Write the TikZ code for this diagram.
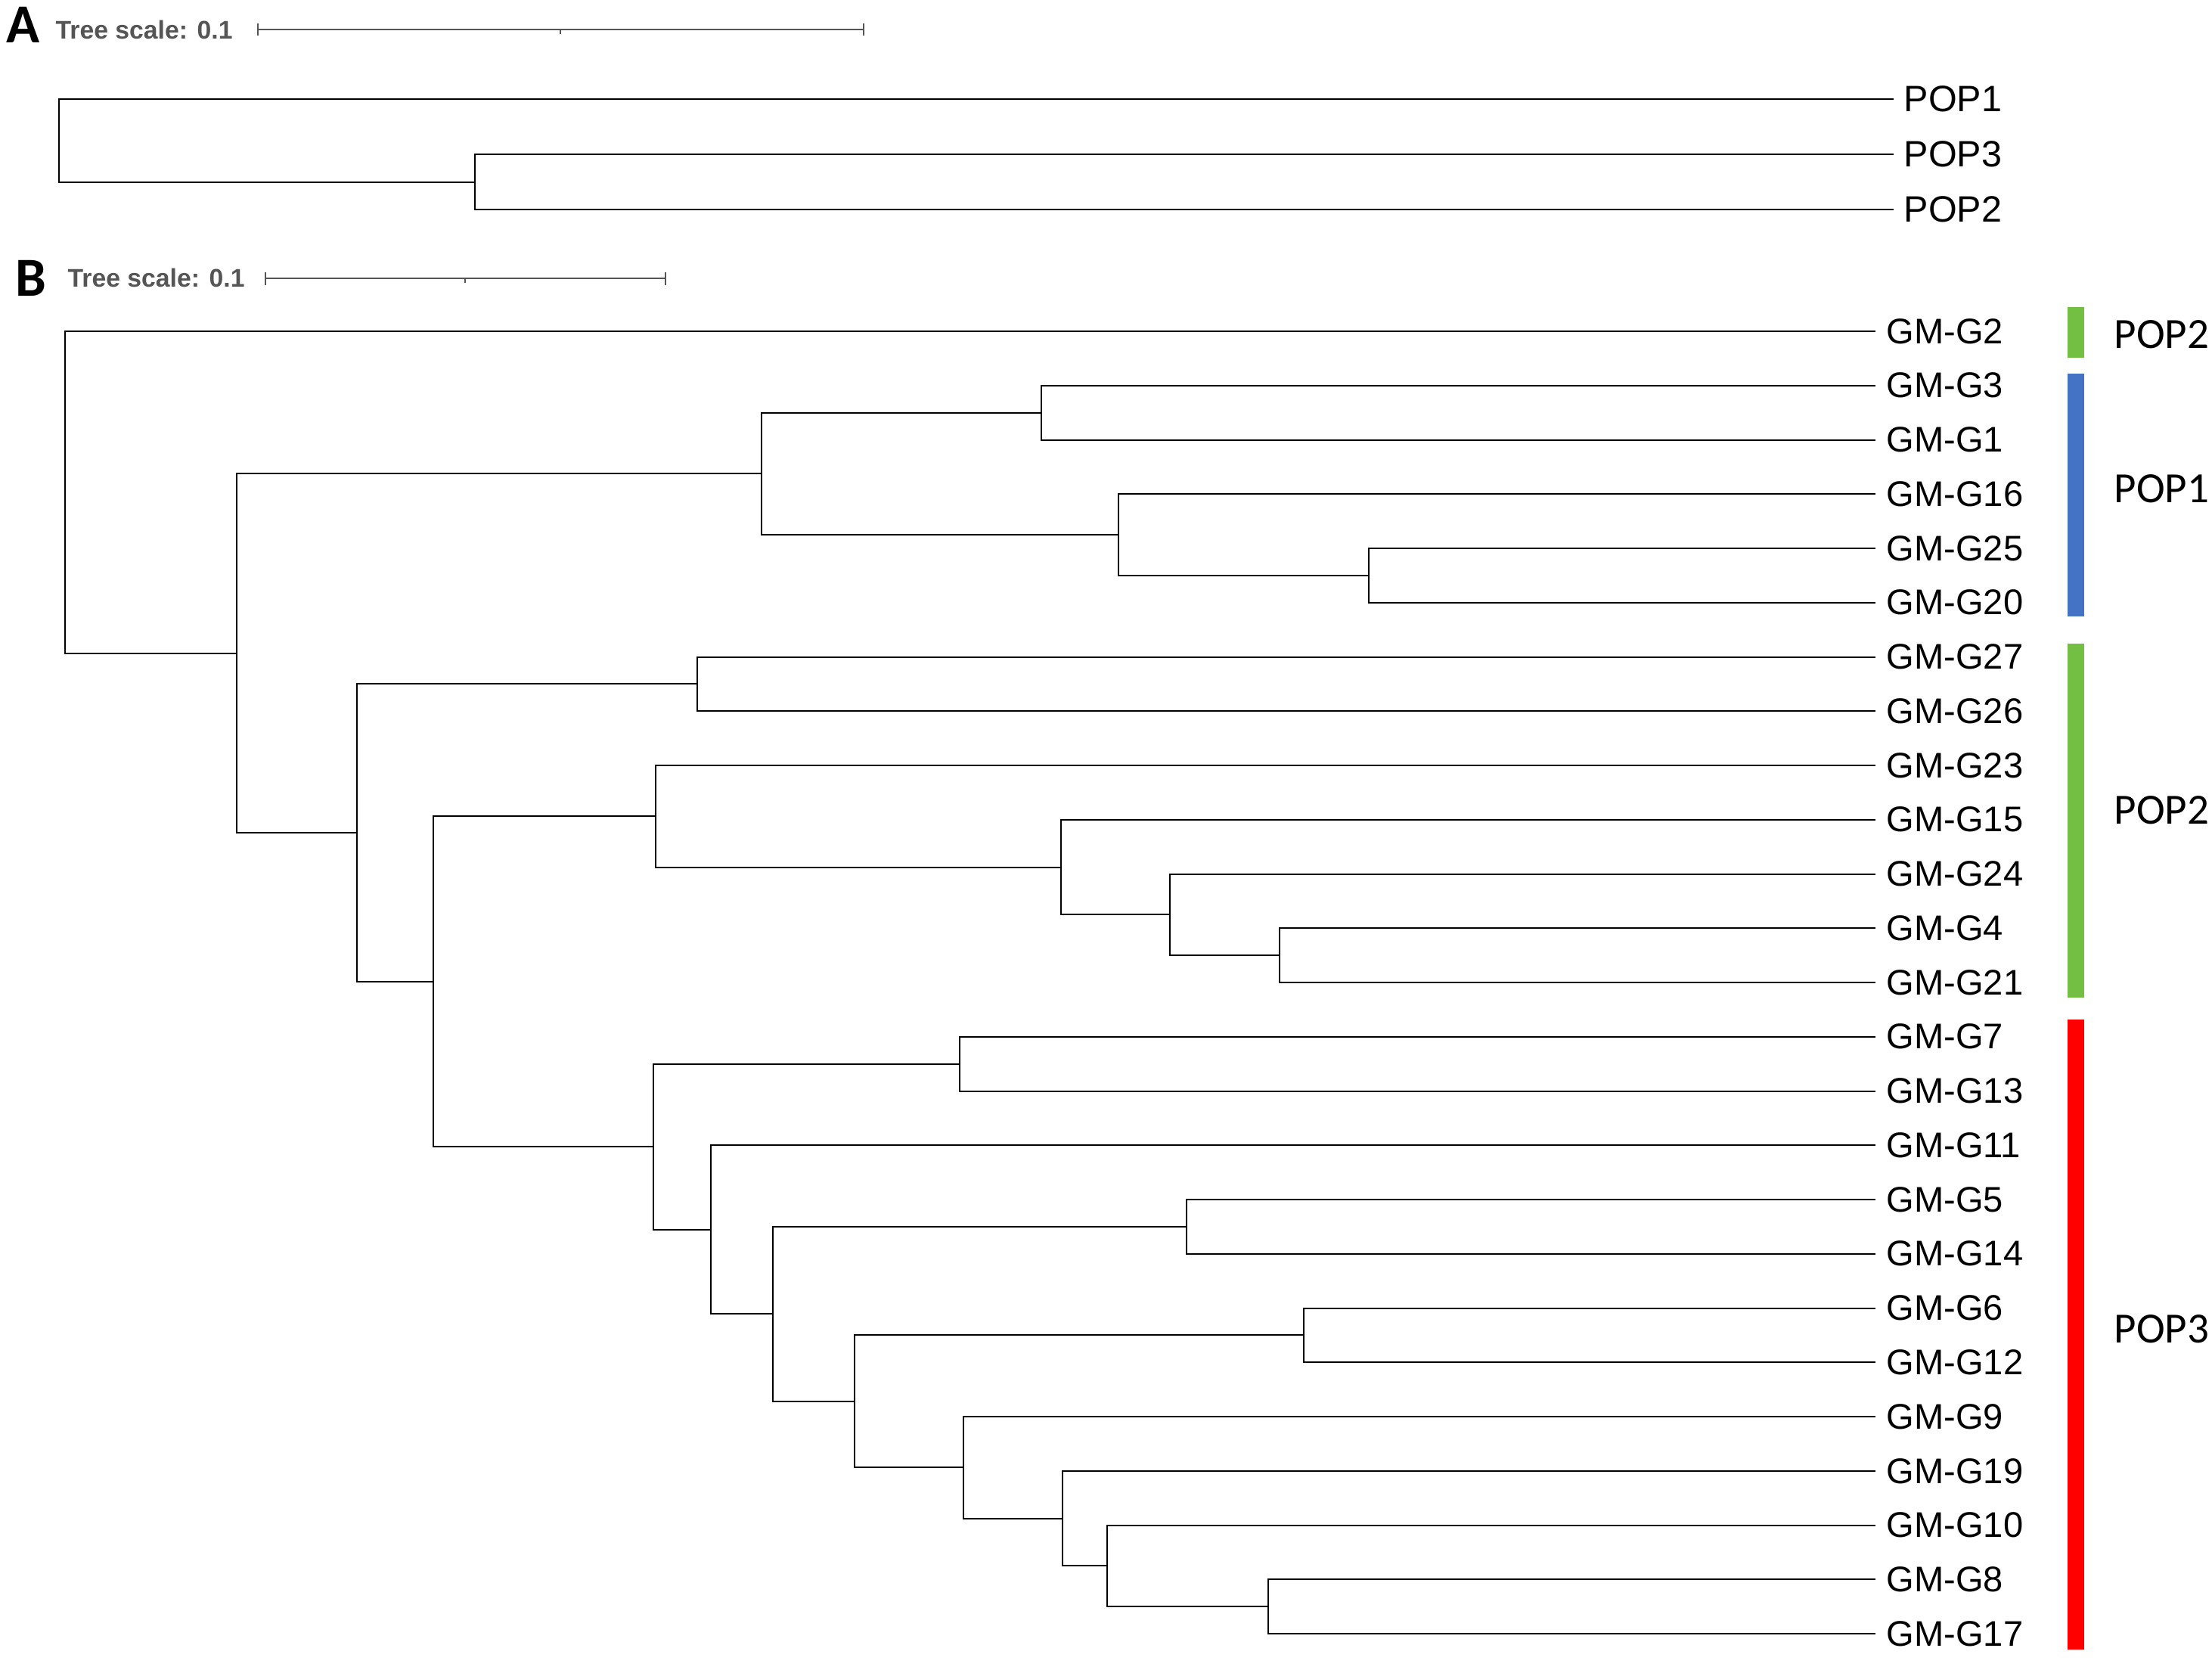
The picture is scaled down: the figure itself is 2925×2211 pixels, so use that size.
\documentclass[tikz,border=0pt]{standalone}
\usepackage{fontspec}
\setmainfont{Liberation Sans}
\newfontfamily\calfont{Carlito}
\usepackage{tikz}

\definecolor{popgreen}{HTML}{72BF44}
\definecolor{popblue}{HTML}{4472C4}
\definecolor{popred}{HTML}{FF0000}
\definecolor{scalegray}{HTML}{555555}

\tikzset{
  leaf/.style={anchor=west,inner xsep=1.4mm,inner ysep=0pt,font=\fontsize{13.4}{15}\selectfont},
  leafA/.style={leaf,inner xsep=1.3mm,font=\fontsize{13.8}{15}\selectfont},
  branch/.style={line width=0.2mm},
  scalebar/.style={line width=0.25mm,scalegray},
  scaletext/.style={anchor=west,inner sep=0pt,text=scalegray,font=\fontsize{9.6}{11}\selectfont\bfseries},
  panel/.style={anchor=west,inner sep=0pt,font=\calfont\fontsize{20.7}{22}\selectfont\bfseries},
  poplabel/.style={anchor=west,inner sep=0pt,font=\calfont\fontsize{16.2}{18}\selectfont}
}

\begin{document}
\begin{tikzpicture}[x=0.1mm,y=-0.1mm]
\useasboundingbox (0,0) rectangle (2925,2211);

% panel A
\node[panel] (pa) at (8,33) {A};
\node[scaletext] (sa) at (73,39) {Tree scale: 0.1};
\draw[scalebar] (341,39) -- (1142,39) (341,31) -- (341,47)
  (1142,31) -- (1142,47) (741,39) -- (741,45);

\node[leafA] (pop1) at (2504,131) {POP1};
\node[leafA] (pop3) at (2504,204) {POP3};
\node[leafA] (pop2) at (2504,277) {POP2};
\coordinate (ea) at (628,240.5);
\coordinate (ra) at (78,185.75);
\draw[branch] (pop3) -| (ea) |- (pop2);
\draw[branch] (pop1) -| (ra) |- (ea);

% panel B
\node[panel] (pb) at (20,368) {B};
\node[scaletext] (sb) at (89,367) {Tree scale: 0.1};
\draw[scalebar] (351,368) -- (880,368) (351,360) -- (351,377)
  (880,360) -- (880,377) (615,368) -- (615,374);

\foreach \g/\i in {2/0,3/1,1/2,16/3,25/4,20/5,27/6,26/7,23/8,15/9,24/10,4/11,21/12,
  7/13,13/14,11/15,5/16,14/17,6/18,12/19,9/20,19/21,10/22,8/23,17/24}
  \node[leaf] (g\g) at (2480,{438+71.75*\i}) {GM-G\g};

% inner nodes
\coordinate (a1) at (1377,545.6);
\coordinate (a2) at (1810,760.9);
\coordinate (a3) at (1479,707.1);
\coordinate (a4) at (1007,626.3);
\coordinate (b1) at (922,904.4);
\coordinate (b2) at (1692,1263.1);
\coordinate (b3) at (1547,1209.3);
\coordinate (b4) at (1403,1146.5);
\coordinate (b5) at (867,1079.3);
\coordinate (c1) at (1269,1406.6);
\coordinate (c2) at (1569,1621.9);
\coordinate (c3) at (1724,1765.4);
\coordinate (c4) at (1677,2124.1);
\coordinate (c5) at (1464,2070.3);
\coordinate (c6) at (1405,2007.5);
\coordinate (c7) at (1274,1940.3);
\coordinate (c8) at (1130,1852.8);
\coordinate (c9) at (1022,1737.4);
\coordinate (c10) at (940,1625.8);
\coordinate (c11) at (864,1516.2);
\coordinate (d1) at (573,1297.8);
\coordinate (d2) at (472,1101.1);
\coordinate (d3) at (313,863.7);
\coordinate (rb) at (86,650.9);

\draw[branch] (g3) -| (a1) |- (g1);
\draw[branch] (g25) -| (a2) |- (g20);
\draw[branch] (g16) -| (a3) |- (a2);
\draw[branch] (a1) -| (a4) |- (a3);
\draw[branch] (g27) -| (b1) |- (g26);
\draw[branch] (g4) -| (b2) |- (g21);
\draw[branch] (g24) -| (b3) |- (b2);
\draw[branch] (g15) -| (b4) |- (b3);
\draw[branch] (g23) -| (b5) |- (b4);
\draw[branch] (g7) -| (c1) |- (g13);
\draw[branch] (g5) -| (c2) |- (g14);
\draw[branch] (g6) -| (c3) |- (g12);
\draw[branch] (g8) -| (c4) |- (g17);
\draw[branch] (g10) -| (c5) |- (c4);
\draw[branch] (g19) -| (c6) |- (c5);
\draw[branch] (g9) -| (c7) |- (c6);
\draw[branch] (c3) -| (c8) |- (c7);
\draw[branch] (c2) -| (c9) |- (c8);
\draw[branch] (g11) -| (c10) |- (c9);
\draw[branch] (c1) -| (c11) |- (c10);
\draw[branch] (b5) -| (d1) |- (c11);
\draw[branch] (b1) -| (d2) |- (d1);
\draw[branch] (a4) -| (d3) |- (d2);
\draw[branch] (g2) -| (rb) |- (d3);

% population bars
\fill[popgreen] (2734,406) rectangle (2756,473);
\fill[popblue] (2734,494) rectangle (2756,815);
\fill[popgreen] (2734,851) rectangle (2756,1319);
\fill[popred] (2734,1348) rectangle (2756,2181);
\node[poplabel] (lb1) at (2795,442) {POP2};
\node[poplabel] (lb2) at (2795,646) {POP1};
\node[poplabel] (lb3) at (2795,1071) {POP2};
\node[poplabel] (lb4) at (2795,1757) {POP3};
\end{tikzpicture}
\end{document}
